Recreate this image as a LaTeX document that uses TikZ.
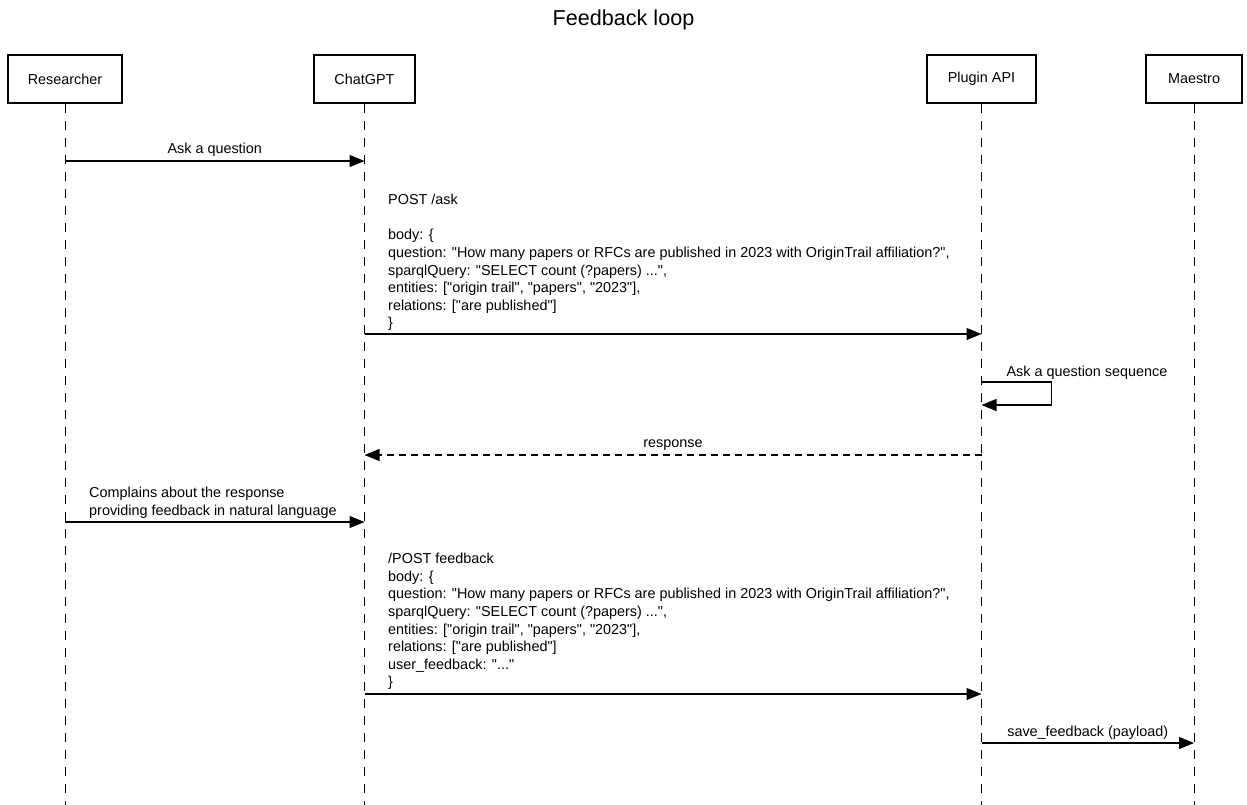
\documentclass[tikz,border=0pt]{standalone}
\usepackage{fontspec}
\setmainfont[Ligatures=TeXReset]{Liberation Sans}
\usetikzlibrary{arrows.meta, positioning}

\begin{document}
\begin{tikzpicture}[x=1pt, y=-1pt,
    actor/.style={draw, line width=2.6pt, minimum height=48pt, inner sep=0pt, font=\fontsize{14.4}{17}\selectfont},  % participant box
    life/.style={line width=0.9pt, dash pattern=on 9pt off 8pt},  % lifeline
    msg/.style={line width=1.1pt, -{Triangle[length=15pt, width=12pt]}},  % message arrow
    reply/.style={msg, dash pattern=on 7pt off 5pt},  % return arrow
    lbl/.style={font=\fontsize{14.4}{17.6}\selectfont, inner sep=0pt},  % message label
    body/.style={lbl, align=left, anchor=north west}]  % request body
    \useasboundingbox (0,0) rectangle (1247,805);  % fixes the page size

    \node[font=\fontsize{21.6}{24}\selectfont] (title) at (623.5,20) {Feedback loop};  % title

    % participants
    \node[actor, minimum width=114pt] (res) at (65,79) {Researcher};
    \node[actor, minimum width=101pt] (gpt) at (364.5,79) {ChatGPT};
    \node[actor, minimum width=109pt] (api) at (981.5,79) {Plugin API};
    \node[actor, minimum width=96pt] (mae) at (1194,79) {Maestro};

    % lifelines
    \foreach \p in {res,gpt,api,mae} {
        \coordinate (\p-end) at ([yshift=-702pt]\p.south);
        \draw[life] (\p.south) -- (\p-end);
    }

    % message rows
    \coordinate (m1) at (0,161);
    \coordinate (m2) at (0,334);
    \coordinate (m3a) at (0,382);
    \coordinate (m3b) at (0,405);
    \coordinate (m4) at (0,455);
    \coordinate (m5) at (0,522);
    \coordinate (m6) at (0,694);
    \coordinate (m7) at (0,743);

    % Ask a question
    \draw[msg] (res |- m1) -- (gpt |- m1) node[lbl, midway, above=3.5pt] (ask) {Ask a question};

    % POST /ask
    \node[body] (postask) at (388,194) {POST /ask\\[17.6pt]
        body: \{\\
        question: "How many papers or RFCs are published in 2023 with OriginTrail affiliation?",\\
        sparqlQuery: "SELECT count (?papers) ...",\\
        entities: ["origin trail", "papers", "2023"],\\
        relations: ["are published"]\\
        \}};
    \draw[msg] (gpt |- m2) -- (api |- m2);

    % self call
    \draw[msg] (api |- m3a) -- ++(70,0) |- (api |- m3b);
    \node[lbl, anchor=south] (seq) at (1087,380) {Ask a question sequence};

    % response
    \draw[reply] (api |- m4) -- (gpt |- m4) node[lbl, midway, above=4pt] (resp) {response};

    % complaint
    \node[lbl, align=left, anchor=south west] (compl) at (89,518.5) {Complains about the response\\providing feedback in natural language};
    \draw[msg] (res |- m5) -- (gpt |- m5);

    % POST feedback
    \node[body] (postfb) at (388,553) {/POST feedback\\
        body: \{\\
        question: "How many papers or RFCs are published in 2023 with OriginTrail affiliation?",\\
        sparqlQuery: "SELECT count (?papers) ...",\\
        entities: ["origin trail", "papers", "2023"],\\
        relations: ["are published"]\\
        user\_feedback: "..."\\
        \}};
    \draw[msg] (gpt |- m6) -- (api |- m6);

    % save to Maestro
    \draw[msg] (api |- m7) -- (mae |- m7) node[lbl, midway, above=2.5pt] (save) {save\_feedback (payload)};
\end{tikzpicture}
\end{document}
